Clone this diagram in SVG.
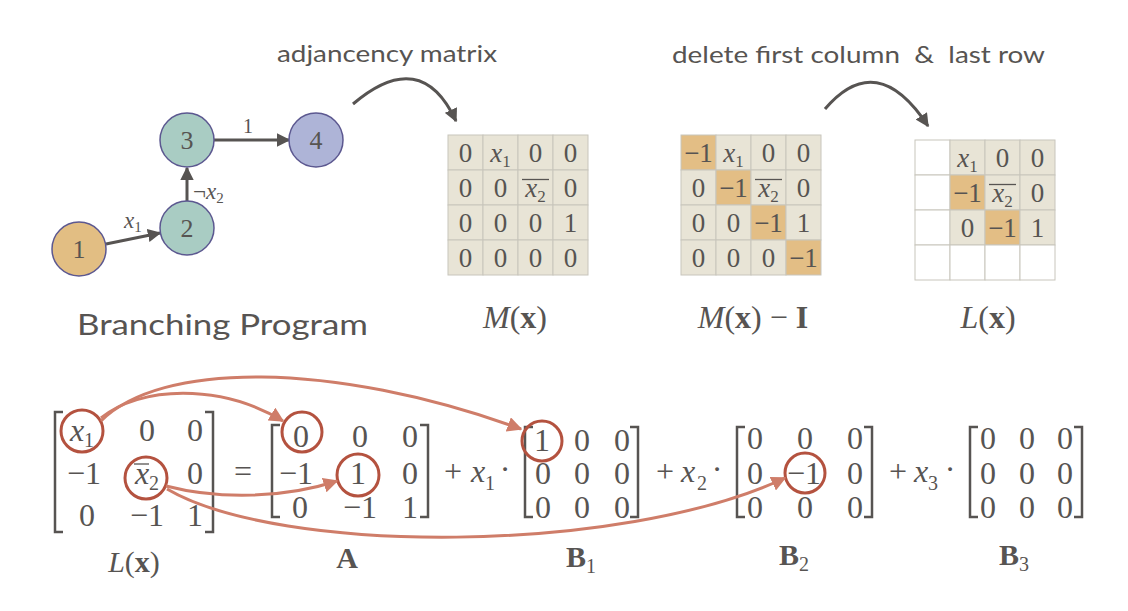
<svg xmlns="http://www.w3.org/2000/svg" width="1128" height="611" viewBox="0 0 1128 611">
<style>
.lbl{font-family:Lato,"Open Sans",sans-serif;fill:#575452;}
.m{font-family:"Liberation Serif","DejaVu Serif",serif;fill:#575452;}
.cell{font-size:27px;text-anchor:middle;}
.big{font-size:32px;text-anchor:middle;}
.it{font-style:italic;}
.bd{font-weight:bold;}
.bg{fill:#E8E4D6;stroke:#C8C5BC;stroke-width:1;}
.or{fill:#E3BE85;stroke:#C8C5BC;stroke-width:1;}
.wh{fill:#fff;stroke:#C8C5BC;stroke-width:1;}
.brk{fill:none;stroke:#575452;stroke-width:2.5;}
.ring{fill:none;stroke:#B4523F;stroke-width:3;}
.rarr{fill:none;stroke:#CF7D69;stroke-width:3;marker-end:url(#ra);}
.garr{fill:none;stroke:#575452;stroke-width:3;marker-end:url(#ga);}
.node{stroke:#5C5890;stroke-width:1.5;}
.bar{stroke:#575452;stroke-width:1.3;}
</style>
<defs>
<marker id="ga" viewBox="0 0 10 10" refX="9" refY="5" markerWidth="4.5" markerHeight="4.5" markerUnits="strokeWidth" orient="auto"><path d="M0,0 L10,5 L0,10 z" fill="#575452"/></marker>
<marker id="ra" viewBox="0 0 10 10" refX="9" refY="5" markerWidth="5" markerHeight="5" markerUnits="strokeWidth" orient="auto"><path d="M0,0 L10,5 L0,10 z" fill="#CF7D69"/></marker>
</defs>
<rect width="1128" height="611" fill="#fff"/>

<!-- Branching program graph -->
<g id="connectors-graph">
<line class="garr" x1="106" y1="244" x2="160" y2="233"/>
<line class="garr" x1="187" y1="201" x2="187" y2="168"/>
<line class="garr" x1="214" y1="140" x2="289" y2="140"/>
<text class="m" x="124" y="228" font-size="23"><tspan class="it">x</tspan><tspan font-size="15" dy="4">1</tspan></text>
<text class="m" x="193" y="199" font-size="23">¬<tspan class="it">x</tspan><tspan font-size="15" dy="4">2</tspan></text>
<text class="m" x="248" y="133" font-size="20" text-anchor="middle">1</text>
</g>
<g id="node1"><circle class="node" cx="79" cy="249" r="27" fill="#E2BE83"/><text class="m" x="79" y="258" font-size="26" text-anchor="middle">1</text></g>
<g id="node2"><circle class="node" cx="187" cy="228" r="27" fill="#A9CCC3"/><text class="m" x="187" y="237" font-size="26" text-anchor="middle">2</text></g>
<g id="node3"><circle class="node" cx="187" cy="140" r="27" fill="#A9CCC3"/><text class="m" x="187" y="149" font-size="26" text-anchor="middle">3</text></g>
<g id="node4"><circle class="node" cx="316" cy="140" r="27" fill="#AEB4D7"/><text class="m" x="316" y="149" font-size="26" text-anchor="middle">4</text></g>
<text class="lbl" x="77" y="335" font-size="29" textLength="291" lengthAdjust="spacingAndGlyphs">Branching Program</text>

<!-- top labels and arrows -->
<text class="lbl" x="277" y="62" font-size="24" textLength="220" lengthAdjust="spacingAndGlyphs">adjancency matrix</text>
<text class="lbl" x="672" y="63" font-size="24" textLength="373" lengthAdjust="spacingAndGlyphs" xml:space="preserve">delete first column  &amp;  last row</text>
<g id="connectors-top">
<path class="garr" d="M353,104 Q421,46 456,121"/>
<path class="garr" d="M825,109 Q877,48 928,126"/>
</g>

<!-- M(x) -->
<g id="Mx">
<rect class="bg" x="448" y="135" width="35" height="35"/><rect class="bg" x="483" y="135" width="35" height="35"/><rect class="bg" x="518" y="135" width="35" height="35"/><rect class="bg" x="553" y="135" width="35" height="35"/>
<rect class="bg" x="448" y="170" width="35" height="35"/><rect class="bg" x="483" y="170" width="35" height="35"/><rect class="bg" x="518" y="170" width="35" height="35"/><rect class="bg" x="553" y="170" width="35" height="35"/>
<rect class="bg" x="448" y="205" width="35" height="35"/><rect class="bg" x="483" y="205" width="35" height="35"/><rect class="bg" x="518" y="205" width="35" height="35"/><rect class="bg" x="553" y="205" width="35" height="35"/>
<rect class="bg" x="448" y="240" width="35" height="35"/><rect class="bg" x="483" y="240" width="35" height="35"/><rect class="bg" x="518" y="240" width="35" height="35"/><rect class="bg" x="553" y="240" width="35" height="35"/>
<text class="m cell" x="465.5" y="162">0</text><text class="m cell" x="500.5" y="162"><tspan class="it">x</tspan><tspan font-size="17" dy="5">1</tspan></text><text class="m cell" x="535.5" y="162">0</text><text class="m cell" x="570.5" y="162">0</text>
<text class="m cell" x="465.5" y="197">0</text><text class="m cell" x="500.5" y="197">0</text><text class="m cell" x="535.5" y="197"><tspan class="it">x</tspan><tspan font-size="17" dy="5">2</tspan></text><line class="bar" x1="522" y1="179.5" x2="549" y2="179.5"/><text class="m cell" x="570.5" y="197">0</text>
<text class="m cell" x="465.5" y="232">0</text><text class="m cell" x="500.5" y="232">0</text><text class="m cell" x="535.5" y="232">0</text><text class="m cell" x="570.5" y="232">1</text>
<text class="m cell" x="465.5" y="267">0</text><text class="m cell" x="500.5" y="267">0</text><text class="m cell" x="535.5" y="267">0</text><text class="m cell" x="570.5" y="267">0</text>
<text class="m" x="515" y="328" font-size="32" text-anchor="middle"><tspan class="it">M</tspan>(<tspan class="bd">x</tspan>)</text>
</g>

<!-- M(x) - I -->
<g id="MxI">
<rect class="or" x="681" y="135" width="35" height="35"/><rect class="bg" x="716" y="135" width="35" height="35"/><rect class="bg" x="751" y="135" width="35" height="35"/><rect class="bg" x="786" y="135" width="35" height="35"/>
<rect class="bg" x="681" y="170" width="35" height="35"/><rect class="or" x="716" y="170" width="35" height="35"/><rect class="bg" x="751" y="170" width="35" height="35"/><rect class="bg" x="786" y="170" width="35" height="35"/>
<rect class="bg" x="681" y="205" width="35" height="35"/><rect class="bg" x="716" y="205" width="35" height="35"/><rect class="or" x="751" y="205" width="35" height="35"/><rect class="bg" x="786" y="205" width="35" height="35"/>
<rect class="bg" x="681" y="240" width="35" height="35"/><rect class="bg" x="716" y="240" width="35" height="35"/><rect class="bg" x="751" y="240" width="35" height="35"/><rect class="or" x="786" y="240" width="35" height="35"/>
<text class="m cell" x="698.5" y="162">−1</text><text class="m cell" x="733.5" y="162"><tspan class="it">x</tspan><tspan font-size="17" dy="5">1</tspan></text><text class="m cell" x="768.5" y="162">0</text><text class="m cell" x="803.5" y="162">0</text>
<text class="m cell" x="698.5" y="197">0</text><text class="m cell" x="733.5" y="197">−1</text><text class="m cell" x="768.5" y="197"><tspan class="it">x</tspan><tspan font-size="17" dy="5">2</tspan></text><line class="bar" x1="755" y1="179.5" x2="782" y2="179.5"/><text class="m cell" x="803.5" y="197">0</text>
<text class="m cell" x="698.5" y="232">0</text><text class="m cell" x="733.5" y="232">0</text><text class="m cell" x="768.5" y="232">−1</text><text class="m cell" x="803.5" y="232">1</text>
<text class="m cell" x="698.5" y="267">0</text><text class="m cell" x="733.5" y="267">0</text><text class="m cell" x="768.5" y="267">0</text><text class="m cell" x="803.5" y="267">−1</text>
<text class="m" x="753" y="328" font-size="32" text-anchor="middle"><tspan class="it">M</tspan>(<tspan class="bd">x</tspan>) − <tspan class="bd">I</tspan></text>
</g>

<!-- L(x) grid -->
<g id="Lgrid">
<rect class="wh" x="915" y="140" width="35" height="35"/><rect class="bg" x="950" y="140" width="35" height="35"/><rect class="bg" x="985" y="140" width="35" height="35"/><rect class="bg" x="1020" y="140" width="35" height="35"/>
<rect class="wh" x="915" y="175" width="35" height="35"/><rect class="or" x="950" y="175" width="35" height="35"/><rect class="bg" x="985" y="175" width="35" height="35"/><rect class="bg" x="1020" y="175" width="35" height="35"/>
<rect class="wh" x="915" y="210" width="35" height="35"/><rect class="bg" x="950" y="210" width="35" height="35"/><rect class="or" x="985" y="210" width="35" height="35"/><rect class="bg" x="1020" y="210" width="35" height="35"/>
<rect class="wh" x="915" y="245" width="35" height="35"/><rect class="wh" x="950" y="245" width="35" height="35"/><rect class="wh" x="985" y="245" width="35" height="35"/><rect class="wh" x="1020" y="245" width="35" height="35"/>
<text class="m cell" x="967.5" y="167"><tspan class="it">x</tspan><tspan font-size="17" dy="5">1</tspan></text><text class="m cell" x="1002.5" y="167">0</text><text class="m cell" x="1037.5" y="167">0</text>
<text class="m cell" x="967.5" y="202">−1</text><text class="m cell" x="1002.5" y="202"><tspan class="it">x</tspan><tspan font-size="17" dy="5">2</tspan></text><line class="bar" x1="989" y1="184.5" x2="1016" y2="184.5"/><text class="m cell" x="1037.5" y="202">0</text>
<text class="m cell" x="967.5" y="237">0</text><text class="m cell" x="1002.5" y="237">−1</text><text class="m cell" x="1037.5" y="237">1</text>
<text class="m" x="988" y="328" font-size="32" text-anchor="middle"><tspan class="it">L</tspan>(<tspan class="bd">x</tspan>)</text>
</g>

<!-- bottom equation -->
<g id="Lbottom">
<path class="brk" d="M63,412 H55 V532 H63"/><path class="brk" d="M205,412 H213 V532 H205"/>
<text class="m big" x="82" y="441"><tspan class="it">x</tspan><tspan font-size="20" dy="6">1</tspan></text><text class="m big" x="147" y="441">0</text><text class="m big" x="195" y="441">0</text>
<text class="m big" x="84" y="484">−1</text><text class="m big" x="147" y="484"><tspan class="it">x</tspan><tspan font-size="20" dy="6">2</tspan></text><line class="bar" x1="134" y1="464" x2="149" y2="464"/><text class="m big" x="195" y="484">0</text>
<text class="m big" x="87" y="526">0</text><text class="m big" x="147" y="526">−1</text><text class="m big" x="195" y="526">1</text>
<circle class="ring" cx="82" cy="431" r="21"/><circle class="ring" cx="146" cy="478" r="21"/>
<text class="m" x="134" y="572" font-size="30" text-anchor="middle"><tspan class="it">L</tspan>(<tspan class="bd">x</tspan>)</text>
</g>
<text class="m big" x="243" y="482">=</text>
<g id="A">
<path class="brk" d="M280,425 H272 V517 H280"/><path class="brk" d="M420,425 H428 V517 H420"/>
<text class="m big" x="301" y="447">0</text><text class="m big" x="360" y="447">0</text><text class="m big" x="410" y="447">0</text>
<text class="m big" x="296" y="484">−1</text><text class="m big" x="358" y="484">1</text><text class="m big" x="410" y="484">0</text>
<text class="m big" x="300" y="518">0</text><text class="m big" x="360" y="518">−1</text><text class="m big" x="410" y="518">1</text>
<circle class="ring" cx="302" cy="432" r="20"/><circle class="ring" cx="358" cy="475" r="21"/>
<text class="m bd" x="347" y="568" font-size="30" text-anchor="middle">A</text>
</g>
<text class="m big" x="453" y="482">+</text><text class="m big it" x="478" y="482">x</text><text class="m" x="490" y="490" font-size="20" text-anchor="middle">1</text><text class="m big" x="505" y="480">·</text>
<g id="B1">
<path class="brk" d="M533,427 H525 V517 H533"/><path class="brk" d="M630,427 H638 V517 H630"/>
<text class="m big" x="542" y="451">1</text><text class="m big" x="582" y="451">0</text><text class="m big" x="622" y="451">0</text>
<text class="m big" x="543" y="484">0</text><text class="m big" x="582" y="484">0</text><text class="m big" x="622" y="484">0</text>
<text class="m big" x="543" y="518">0</text><text class="m big" x="582" y="518">0</text><text class="m big" x="622" y="518">0</text>
<circle class="ring" cx="542" cy="441" r="20"/>
<text class="m" font-size="30"><tspan class="bd" x="566" y="567">B</tspan><tspan font-size="20" dy="6">1</tspan></text>
</g>
<text class="m big" x="665" y="482">+</text><text class="m big it" x="688" y="482">x</text><text class="m" x="702" y="490" font-size="20" text-anchor="middle">2</text><text class="m big" x="717" y="480">·</text>
<g id="B2">
<path class="brk" d="M745,427 H737 V517 H745"/><path class="brk" d="M864,427 H872 V517 H864"/>
<text class="m big" x="755" y="449">0</text><text class="m big" x="805" y="449">0</text><text class="m big" x="855" y="449">0</text>
<text class="m big" x="755" y="484">0</text><text class="m big" x="804" y="484">−1</text><text class="m big" x="855" y="484">0</text>
<text class="m big" x="755" y="518">0</text><text class="m big" x="805" y="518">0</text><text class="m big" x="855" y="518">0</text>
<circle class="ring" cx="805" cy="473" r="20"/>
<text class="m" font-size="30"><tspan class="bd" x="779" y="565">B</tspan><tspan font-size="20" dy="6">2</tspan></text>
</g>
<text class="m big" x="898" y="482">+</text><text class="m big it" x="921" y="482">x</text><text class="m" x="933" y="490" font-size="20" text-anchor="middle">3</text><text class="m big" x="950" y="480">·</text>
<g id="B3">
<path class="brk" d="M978,427 H970 V517 H978"/><path class="brk" d="M1074,427 H1082 V517 H1074"/>
<text class="m big" x="988" y="449">0</text><text class="m big" x="1027" y="449">0</text><text class="m big" x="1065" y="449">0</text>
<text class="m big" x="988" y="484">0</text><text class="m big" x="1027" y="484">0</text><text class="m big" x="1065" y="484">0</text>
<text class="m big" x="988" y="518">0</text><text class="m big" x="1027" y="518">0</text><text class="m big" x="1065" y="518">0</text>
<text class="m" font-size="30"><tspan class="bd" x="999" y="565">B</tspan><tspan font-size="20" dy="6">3</tspan></text>
</g>

<g id="connectors-red">
<path class="rarr" d="M101,418 C140,386 220,383 283,421"/>
<path class="rarr" d="M101,421 C160,362 330,360 521,429"/>
<path class="rarr" d="M166,486 C220,500 285,498 337,481"/>
<path class="rarr" d="M167,489 C280,555 620,555 785,478"/>
</g>
</svg>
